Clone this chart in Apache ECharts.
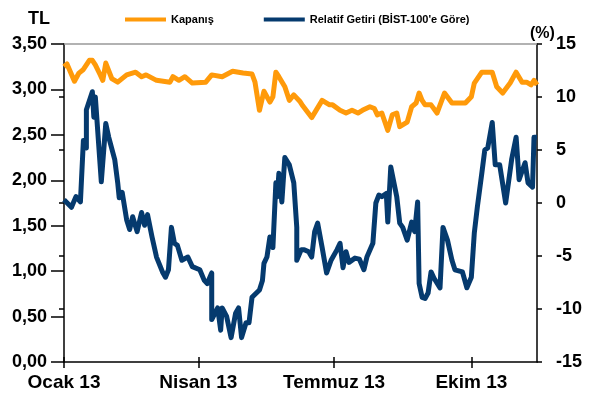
<!DOCTYPE html>
<html>
<head>
<meta charset="utf-8">
<script src="https://cdn.jsdelivr.net/npm/echarts@6/dist/echarts.min.js"></script>
<style>
html,body{margin:0;padding:0;background:#fff;}
#chart{width:589px;height:400px;}
</style>
</head>
<body>
<div id="chart"></div>
<script>
// Days since 1 Jan 2013 for each point
var gunKapanis = [0,2,7,10,13,17,19,21,24,26,28,32,36,42,48,52,55,62,71,73,77,81,86,95,99,106,113,120,126,128,131,134,138,140,142,144,148,151,154,158,160,166,173,178,180,185,189,193,197,200,205,208,210,213,217,220,223,225,230,233,236,238,240,242,246,250,255,260,269,273,275,280,287,290,294,299,303,307,310,313,315,317];
var kapanis = [3.25,3.28,3.09,3.18,3.22,3.32,3.32,3.27,3.17,3.10,3.29,3.12,3.08,3.16,3.19,3.14,3.16,3.10,3.08,3.14,3.10,3.14,3.07,3.08,3.16,3.14,3.20,3.18,3.17,3.08,2.77,2.98,2.86,2.92,3.19,3.14,3.03,2.88,2.94,2.87,2.82,2.69,2.88,2.83,2.83,2.77,2.74,2.77,2.74,2.77,2.81,2.79,2.72,2.74,2.55,2.72,2.74,2.59,2.64,2.81,2.85,2.96,2.88,2.83,2.83,2.74,2.96,2.85,2.85,2.92,3.07,3.19,3.19,3.03,2.96,3.07,3.19,3.08,3.08,3.05,3.10,3.05];

var gunRelatif = [0,5,8,11,13,15,15,19,20,21,25,28,30,34,36,37,39,42,44,46,49,52,54,56,59,62,66,68,70,72,74,76,79,80,83,86,91,94,96,99,99,103,105,106,109,112,115,117,119,122,124,126,131,133,134,136,138,140,142,143,144,146,148,151,154,156,156,159,161,164,166,168,170,173,176,179,183,185,187,189,191,195,198,201,203,207,209,211,213,216,217,219,220,223,225,227,230,233,235,237,238,240,242,244,246,248,252,254,257,260,262,267,270,273,275,277,280,282,284,287,289,292,296,300,303,305,309,311,314,315,317];
var relatif = [0.3,-0.4,0.6,0.1,5.9,5.2,8.8,10.5,8.1,10.0,2.0,7.5,6.2,4.1,1.9,0.5,1.0,-1.6,-2.5,-1.3,-2.7,-0.9,-2.1,-1.1,-3.2,-5.1,-6.5,-7.0,-6.3,-2.3,-3.8,-4.0,-5.4,-5.4,-5.1,-6.0,-6.3,-7.3,-7.6,-6.6,-11.0,-9.9,-12.0,-9.9,-10.7,-12.7,-10.4,-9.9,-12.7,-11.3,-11.3,-8.9,-8.2,-7.3,-5.7,-5.1,-3.2,-4.2,1.9,0.6,2.8,0.1,4.3,3.6,1.9,-2.3,-5.4,-4.4,-4.4,-4.6,-5.1,-2.7,-1.9,-4.2,-6.6,-5.4,-4.4,-3.8,-6.1,-4.6,-5.6,-5.2,-5.3,-6.3,-5.1,-3.8,0.0,0.75,0.6,0.9,-1.8,3.4,3.4,0.6,-1.9,-2.3,-3.5,-1.8,-2.7,0.1,-7.6,-8.9,-9.0,-8.5,-6.5,-7.1,-8.0,-2.3,-3.5,-5.4,-6.3,-6.5,-8.0,-7.0,-2.8,-0.4,2.8,5.0,5.2,7.6,3.6,3.6,0.0,4.1,6.2,2.2,3.8,1.9,1.5,6.2,6.2];

var tickGunleri = [0, 90, 181, 273];
var tickEtiketleri = ['Ocak 13', 'Nisan 13', 'Temmuz 13', 'Ekim 13'];
var seriAdlari = ['Kapanış', "Relatif Getiri (BİST-100'e Göre)"];

var FONT = '"Liberation Sans", Arial, sans-serif';
var kapanisData = gunKapanis.map(function (d, i) { return [d, kapanis[i]]; });
var relatifData = gunRelatif.map(function (d, i) { return [d, relatif[i]]; });

var chart = echarts.init(document.getElementById('chart'), null, {renderer: 'canvas'});
var black = '#000';
chart.setOption({
  animation: false,
  backgroundColor: '#fff',
  grid: {left: 64, right: 52, top: 44, bottom: 38, containLabel: false},
  legend: {
    left: 120, top: 9,
    icon: 'rect', itemWidth: 41, itemHeight: 4, itemGap: 50,
    textStyle: {fontFamily: FONT, fontWeight: 'bold', fontSize: 11, color: '#000'},
    data: seriAdlari
  },
  graphic: [
    {type: 'text', left: 28, top: 10, style: {text: 'TL', font: 'bold 18px ' + FONT, fill: '#000'}},
    {type: 'text', left: 530, top: 26, style: {text: '(%)', font: 'bold 16px ' + FONT, fill: '#000'}}
  ],
  xAxis: [
    {
      type: 'value', min: 0, max: 317, position: 'bottom',
      axisLine: {show: true, onZero: false, lineStyle: {color: black, width: 1.5}},
      axisTick: {show: true, customValues: tickGunleri, length: 6, lineStyle: {color: black, width: 1.5}},
      axisLabel: {
        customValues: tickGunleri, margin: 11,
        fontFamily: FONT, fontWeight: 'bold', fontSize: 19, color: '#000',
        formatter: function (v) { var i = tickGunleri.indexOf(v); return i >= 0 ? tickEtiketleri[i] : ''; }
      },
      splitLine: {show: false}
    },
    {
      type: 'value', min: 0, max: 317, position: 'bottom',
      axisLine: {show: false},
      axisTick: {show: true, inside: true, customValues: tickGunleri, length: 5, lineStyle: {color: black, width: 1.5}},
      axisLabel: {show: false},
      splitLine: {show: false}
    },
    {
      type: 'value', min: 0, max: 317, position: 'top',
      axisLine: {show: true, onZero: false, lineStyle: {color: '#999', width: 1.5}},
      axisTick: {show: false}, axisLabel: {show: false}, splitLine: {show: false}
    }
  ],
  yAxis: [
    {
      type: 'value', min: 0, max: 3.5, interval: 0.5, position: 'left',
      axisLine: {show: true, onZero: false, lineStyle: {color: black, width: 1.5}},
      axisTick: {show: true, length: 13, lineStyle: {color: black, width: 1.5}},
      axisLabel: {
        margin: 17, fontFamily: FONT, fontWeight: 'bold', fontSize: 18, color: '#000',
        formatter: function (v) { return v.toFixed(2).replace('.', ','); }
      },
      splitLine: {show: false}
    },
    {
      type: 'value', min: -15, max: 15, interval: 5, position: 'right',
      axisLine: {show: true, onZero: false, lineStyle: {color: black, width: 1.5}},
      axisTick: {show: true, length: 5, lineStyle: {color: black, width: 1.5}},
      axisLabel: {margin: 19, fontFamily: FONT, fontWeight: 'bold', fontSize: 18, color: '#000'},
      splitLine: {show: false}
    },
    {
      type: 'value', min: -15, max: 15, interval: 5, position: 'right',
      axisLine: {show: false},
      axisTick: {show: true, inside: true, length: 5, lineStyle: {color: black, width: 1.5}},
      axisLabel: {show: false}, splitLine: {show: false}
    }
  ],
  series: [
    {
      name: seriAdlari[0], type: 'line', xAxisIndex: 0, yAxisIndex: 0,
      data: kapanisData, showSymbol: false, symbol: 'none',
      lineStyle: {color: '#FF9A0A', width: 5, join: 'round'}, itemStyle: {color: '#FF9A0A'}
    },
    {
      name: seriAdlari[1], type: 'line', xAxisIndex: 0, yAxisIndex: 1,
      data: relatifData, showSymbol: false, symbol: 'none',
      lineStyle: {color: '#053A6E', width: 5, join: 'round'}, itemStyle: {color: '#053A6E'}
    }
  ]
});
</script>
</body>
</html>
